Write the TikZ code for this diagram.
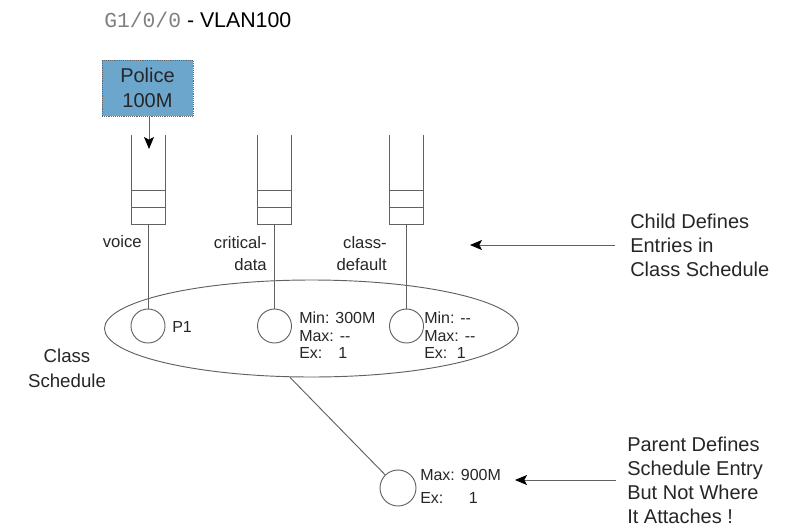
\documentclass[tikz,border=0pt]{standalone}
\usepackage{fontspec}
\setmainfont{Liberation Sans}
\newfontfamily\monofont{Liberation Mono}
\usetikzlibrary{shapes.geometric,arrows.meta}
\definecolor{policeblue}{RGB}{108,166,205}
\begin{document}
\begin{tikzpicture}[x=0.75pt,y=-0.75pt,
 line/.style={draw=black!62, line width=0.7pt},
 sched/.style={circle, draw=black!62, line width=0.7pt, minimum size=25.5pt, inner sep=0pt},
 lbl/.style={font=\fontsize{12.5}{17}\selectfont, text=black!85, inner sep=0pt},
 info/.style={font=\fontsize{12}{13}\selectfont, align=left, text=black!85, inner sep=0pt},
 note/.style={font=\fontsize{15}{18}\selectfont, align=left, text=black!85, inner sep=0pt},
 arr/.style={line, -{Stealth[length=9pt,width=7.5pt,inset=2pt,color=black]}},
]
\useasboundingbox (0,0) rectangle (786,529);

% title
\node[anchor=west, inner sep=0pt] (title) at (104,20)
  {\fontsize{16}{18}\selectfont{\monofont\color{black!50}G1/0/0} - VLAN100};

% policer
\node[draw=black!60, densely dotted, fill=policeblue, minimum width=68.25pt,
      minimum height=42pt, align=center, font=\fontsize{15}{19}\selectfont,
      text=black!85] (police) at (147.5,88) {Police\\100M};
\coordinate (pin) at (149,149);
\draw[arr] (police.south -| pin) -- (pin);

% queues
\foreach \n/\x in {1/148, 2/274.5, 3/406.5} {
  \draw[line] (\x-17,135) -- (\x-17,224) -- (\x+17,224) -- (\x+17,135);
  \draw[line] (\x-17,190) -- (\x+17,190) (\x-17,207) -- (\x+17,207);
  \coordinate (q\n) at (\x,224);
}

% class schedule
\node[ellipse, line, minimum width=310.5pt, minimum height=72.75pt, inner sep=0pt]
  (sched) at (311.5,328.5) {};
\node[sched] (c1) at (148,326) {};
\node[sched] (c2) at (274.5,326) {};
\node[sched] (c3) at (406.5,326) {};
\node[sched, minimum size=27pt] (c4) at (398,488) {};

\draw[line] (q1) -- (c1);
\draw[line] (q2) -- (c2);
\draw[line] (q3) -- (c3);
\draw[line] (sched.-114) -- (c4);

% queue labels
\node[lbl, anchor=east] (lvoice) at (142,242) {voice};
\node[lbl, anchor=east, align=right] (lcrit) at (267,253.5) {critical-\\data};
\node[lbl, anchor=east, align=right] (lcd) at (387,253.5) {class-\\default};

% entry info
\node[info, anchor=west] (p1) at (172,327) {P1};
\node[info, anchor=west] (i2) at (299,335.5) {Min: 300M\\Max: {-}{-}\\Ex:\hspace{1em}1};
\node[info, anchor=west] (i3) at (424,335.5) {Min: {-}{-}\\Max: {-}{-}\\Ex:\hspace{0.6em}1};
\node[info, anchor=west, font=\fontsize{12}{17}\selectfont] (i4) at (420,486.5)
  {Max: 900M\\Ex:\hspace{1.6em}1};

\node[font=\fontsize{14}{18.75}\selectfont, align=center, text=black!85, inner sep=0pt]
  (cs) at (67,368) {Class\\Schedule};

% notes
\node[note, anchor=west] (child) at (630,245) {Child Defines\\Entries in\\Class Schedule};
\coordinate (childtip) at (470,245);
\draw[arr, shorten <=11pt] (child.west) -- (childtip);

\node[note, anchor=west] (parent) at (627,480)
  {Parent Defines\\Schedule Entry\\But Not Where\\It Attaches !};
\coordinate (ptip) at (515,480);
\draw[arr, shorten <=8pt] (parent.west) -- (ptip);
\end{tikzpicture}
\end{document}
